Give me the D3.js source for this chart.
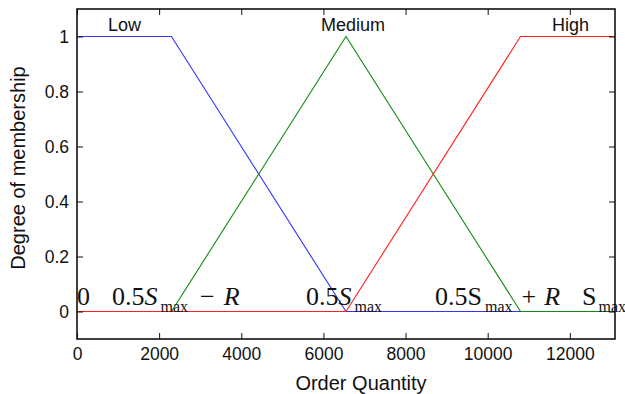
<!DOCTYPE html>
<html>
<head>
<meta charset="utf-8">
<script src="https://cdn.jsdelivr.net/npm/d3@7"></script>
<style>
  body { margin: 0; background: #fff; }
  text { font-family: "Liberation Sans", Arial, sans-serif; }
</style>
</head>
<body>
<div id="chart"></div>
<script>
const qty = [0, 2300, 6550, 10800, 13100]
const low = [1, 1, 0, 0, 0]
const medium = [0, 0, 1, 0, 0]
const high = [0, 0, 0, 1, 1]
const xTicks = [0, 2000, 4000, 6000, 8000, 10000, 12000]
const yTicks = [0, 0.2, 0.4, 0.6, 0.8, 1]

const width = 625, height = 394
const margin = {left: 77, right: 10, top: 9, bottom: 55}

const svg = d3.select("#chart")
  .append("svg")
    .attr("width", width)
    .attr("height", height)

const x = d3.scaleLinear()
  .domain([0, 13100])
  .range([margin.left, width - margin.right])

const y = d3.scaleLinear()
  .domain([-0.1, 1.1])
  .range([height - margin.bottom, margin.top])

const series = [
  {name: "Low", values: low, color: "#3333ff", labelX: 1157},
  {name: "Medium", values: medium, color: "#138a13", labelX: 6720},
  {name: "High", values: high, color: "#ff2020", labelX: 12017}
]

const line = d3.line()
  .x(d => x(d[0]))
  .y(d => y(d[1]))

series.forEach(s => {
  svg.append("path")
    .attr("d", line(qty.map((q, i) => [q, s.values[i]])))
    .attr("fill", "none")
    .attr("stroke", s.color)
    .attr("stroke-width", 1.1)
})

// frame + inward ticks
const axisStyle = g => {
  g.select(".domain").remove()
  g.selectAll("text").style("font-size", "17.5px").attr("fill", "#111")
  g.selectAll("line").attr("stroke", "#111")
}

svg.append("g")
  .attr("transform", `translate(0,${y(-0.1)})`)
  .call(d3.axisBottom(x).tickValues(xTicks).tickFormat(d3.format("d")).tickSize(-6).tickPadding(9))
  .call(axisStyle)

svg.append("g")
  .attr("transform", `translate(0,${y(1.1)})`)
  .call(d3.axisTop(x).tickValues(xTicks).tickFormat("").tickSize(-6))
  .call(axisStyle)

svg.append("g")
  .attr("transform", `translate(${x(0)},0)`)
  .call(d3.axisLeft(y).tickValues(yTicks).tickFormat(d => d).tickSize(-6).tickPadding(8))
  .call(axisStyle)

svg.append("g")
  .attr("transform", `translate(${x(13100)},0)`)
  .call(d3.axisRight(y).tickValues(yTicks).tickFormat("").tickSize(-6))
  .call(axisStyle)

svg.append("rect")
  .attr("x", x(0))
  .attr("y", y(1.1))
  .attr("width", x(13100) - x(0))
  .attr("height", y(-0.1) - y(1.1))
  .attr("fill", "none")
  .attr("stroke", "#111")
  .attr("stroke-width", 1.6)

// set labels
svg.selectAll(".setlabel")
  .data(series)
  .join("text")
    .attr("class", "setlabel")
    .attr("x", d => x(d.labelX))
    .attr("y", 31)
    .attr("text-anchor", "middle")
    .style("font-size", "18px")
    .attr("fill", "#111")
    .text(d => d.name)

// breakpoint annotations (serif math): [text, style, dx, dy]
const notes = [
  {at: 0, parts: [["0", "normal", 0, 0]]},
  {at: 852, parts: [["0.5", "normal", 0, 0], ["S", "italic", 0, 0], ["max", "sub", 3, 6.5],
    ["\u2212", "normal", 12, -6.5], ["R", "italic", 9, 0]]},
  {at: 5576, parts: [["0.5", "normal", 0, 0], ["S", "italic", 0, 0], ["max", "sub", 3, 6.5]]},
  {at: 8717, parts: [["0.5S", "normal", 0, 0], ["max", "sub", 3, 6.5],
    ["+", "normal", 9, -6.5], ["R", "italic", 8, 0]]},
  {at: 12296, parts: [["S", "normal", 0, 0], ["max", "sub", 2, 6.5]]}
]

notes.forEach(n => {
  const t = svg.append("text")
    .attr("x", x(n.at))
    .attr("y", 305)
    .style("font-family", "'Liberation Serif', 'Times New Roman', serif")
    .style("font-size", "26px")
    .attr("fill", "#111")
  n.parts.forEach(p => {
    const ts = t.append("tspan")
      .text(p[0])
      .attr("dx", p[2])
      .attr("dy", p[3])
    if (p[1] === "italic") ts.style("font-style", "italic")
    if (p[1] === "sub") ts.style("font-size", "16px")
  })
})

svg.append("text")
  .attr("x", 361)
  .attr("y", 390)
  .attr("text-anchor", "middle")
  .style("font-size", "20px")
  .attr("fill", "#111")
  .text("Order Quantity")

svg.append("text")
  .attr("transform", `translate(25,168) rotate(-90)`)
  .attr("text-anchor", "middle")
  .style("font-size", "20px")
  .attr("fill", "#111")
  .text("Degree of membership")
</script>
</body>
</html>
